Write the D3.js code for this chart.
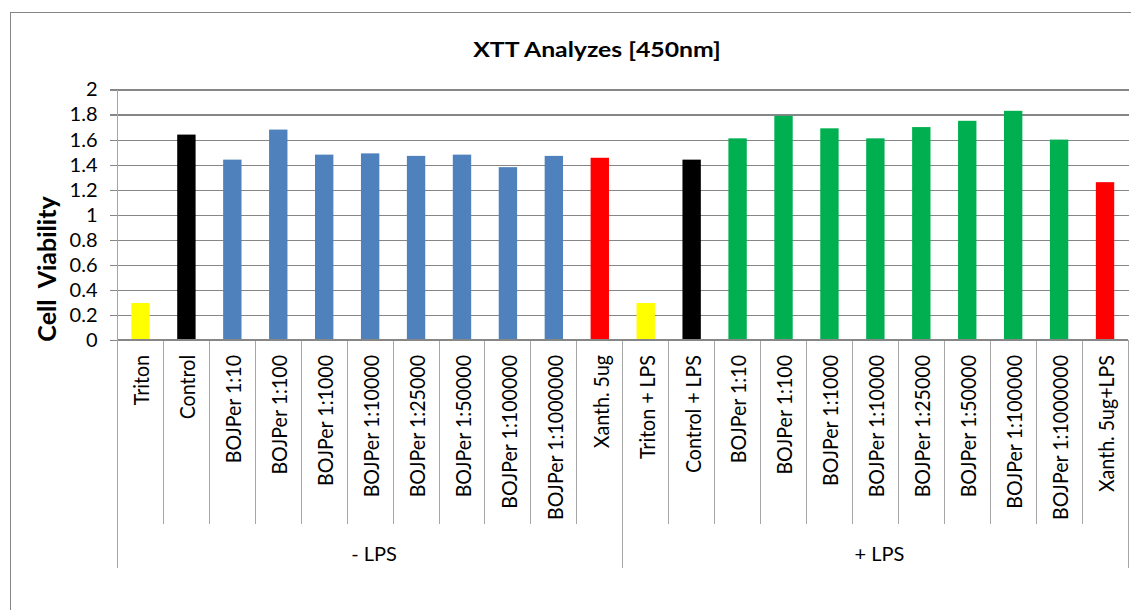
<!DOCTYPE html>
<html>
<head>
<meta charset="utf-8">
<script src="https://cdn.jsdelivr.net/npm/d3@7"></script>
<style>
  html, body { margin: 0; padding: 0; background: #ffffff; }
  svg { display: block; font-family: Lato, "Open Sans", sans-serif; }
</style>
</head>
<body>
<svg id="chart" width="1131" height="610"></svg>
<script>
// XTT assay readings, grouped by LPS treatment
const groupNames = ["- LPS", "+ LPS"];
const minusLpsLabels = ["Triton", "Control", "BOJPer 1:10", "BOJPer 1:100", "BOJPer 1:1000",
  "BOJPer 1:10000", "BOJPer 1:25000", "BOJPer 1:50000", "BOJPer 1:100000", "BOJPer 1:1000000", "Xanth. 5ug"];
const plusLpsLabels = ["Triton + LPS", "Control + LPS", "BOJPer 1:10", "BOJPer 1:100", "BOJPer 1:1000",
  "BOJPer 1:10000", "BOJPer 1:25000", "BOJPer 1:50000", "BOJPer 1:100000", "BOJPer 1:1000000", "Xanth. 5ug+LPS"];
const minusLpsValues = [0.295, 1.64, 1.44, 1.68, 1.48, 1.49, 1.47, 1.48, 1.38, 1.47, 1.455];
const plusLpsValues = [0.295, 1.44, 1.61, 1.79, 1.69, 1.61, 1.70, 1.75, 1.83, 1.60, 1.26];
const minusLpsKinds = ["triton", "control", "bojper", "bojper", "bojper", "bojper", "bojper", "bojper", "bojper", "bojper", "xanth"];
const plusLpsKinds = ["triton", "control", "boost", "boost", "boost", "boost", "boost", "boost", "boost", "boost", "xanth"];
const yTicks = [0, 0.2, 0.4, 0.6, 0.8, 1, 1.2, 1.4, 1.6, 1.8, 2];

const kindColor = {
  triton: "#FFFF00",
  control: "#000000",
  bojper: "#4F81BD",
  boost: "#00B050",
  xanth: "#FF0000"
};

const rows = [];
[[minusLpsLabels, minusLpsValues, minusLpsKinds], [plusLpsLabels, plusLpsValues, plusLpsKinds]]
  .forEach(([labels, values, kinds], g) => {
    labels.forEach((label, i) => rows.push({ key: g + "-" + i, group: g, label, value: values[i], kind: kinds[i] }));
  });

const svg = d3.select("#chart");
const plot = { left: 117.5, right: 1128, top: 89.5, bottom: 340 };

// chart frame
svg.append("rect")
  .attr("x", 10.5).attr("y", 12.5).attr("width", 1300).attr("height", 800)
  .attr("fill", "none").attr("stroke", "#868686").attr("stroke-width", 1);

const x = d3.scaleBand()
  .domain(rows.map(d => d.key))
  .range([plot.left, plot.right])
  .paddingInner(0.6)
  .paddingOuter(0.3);
const step = x.step();

const y = d3.scaleLinear().domain([0, 2]).range([plot.bottom, plot.top]);

// gridlines and value axis
const yAxis = d3.axisLeft(y)
  .tickValues(yTicks)
  .tickFormat(d3.format("~g"))
  .tickSize(-(plot.right - plot.left) - 0.5)
  .tickSizeOuter(0)
  .tickPadding(20);
const yg = svg.append("g").attr("transform", `translate(${plot.left},0)`).call(yAxis);
yg.select(".domain").remove();
yg.selectAll(".tick line")
  .attr("x1", -8)
  .attr("stroke", "#868686").attr("stroke-width", 1.2)
  .attr("shape-rendering", "crispEdges");
yg.selectAll(".tick text")
  .attr("fill", "#000").attr("font-size", 20).attr("font-family", "Lato, sans-serif");

// vertical value axis line
svg.append("line")
  .attr("x1", plot.left).attr("x2", plot.left)
  .attr("y1", plot.top).attr("y2", plot.bottom)
  .attr("stroke", "#a6a6a6").attr("stroke-width", 1).attr("shape-rendering", "crispEdges");

// bars
svg.append("g").selectAll("rect")
  .data(rows)
  .join("rect")
  .attr("x", d => x(d.key))
  .attr("width", x.bandwidth())
  .attr("y", d => y(d.value))
  .attr("height", d => y(0) - y(d.value))
  .attr("fill", d => kindColor[d.kind]);

// category separators
const nCats = rows.length;
const catEdges = d3.range(nCats + 1).map(i => plot.left + i * step);
svg.append("g").selectAll("line")
  .data(catEdges)
  .join("line")
  .attr("x1", d => d).attr("x2", d => d)
  .attr("y1", plot.bottom)
  .attr("y2", (d, i) => (i % minusLpsLabels.length === 0) ? 568 : 524)
  .attr("stroke", "#a6a6a6").attr("stroke-width", 1)
  .attr("shape-rendering", "crispEdges");

// category axis baseline
svg.append("line")
  .attr("x1", plot.left).attr("x2", plot.right)
  .attr("y1", plot.bottom).attr("y2", plot.bottom)
  .attr("stroke", "#868686").attr("stroke-width", 1.2)
  .attr("shape-rendering", "crispEdges");

// category labels (glyphs widened slightly across the column)
svg.append("g").selectAll("text")
  .data(rows)
  .join("text")
  .attr("transform", d => `translate(${x(d.key) + x.bandwidth() / 2 + 1},355) scale(1.12,1) rotate(-90)`)
  .attr("text-anchor", "end")
  .attr("dy", "0.36em")
  .attr("font-size", 19.6)
  .attr("fill", "#000")
  .text(d => d.label);

// group labels
svg.append("g").selectAll("text")
  .data(groupNames)
  .join("text")
  .attr("x", (d, g) => plot.left + (g + 0.5) * minusLpsLabels.length * step + 4)
  .attr("y", 561)
  .attr("text-anchor", "middle")
  .attr("font-size", 20)
  .attr("fill", "#000")
  .text(d => d);

// title
svg.append("text")
  .attr("transform", "translate(597,57) scale(1.18,1)")
  .attr("text-anchor", "middle")
  .attr("font-size", 21).attr("font-weight", "bold")
  .attr("fill", "#000")
  .text("XTT Analyzes [450nm]");

// value axis title
svg.append("text")
  .attr("transform", "translate(56,269) rotate(-90)")
  .attr("text-anchor", "middle")
  .attr("font-size", 25).attr("font-weight", "bold")
  .attr("fill", "#000")
  .attr("xml:space", "preserve")
  .text("Cell  Viability");
</script>
</body>
</html>
